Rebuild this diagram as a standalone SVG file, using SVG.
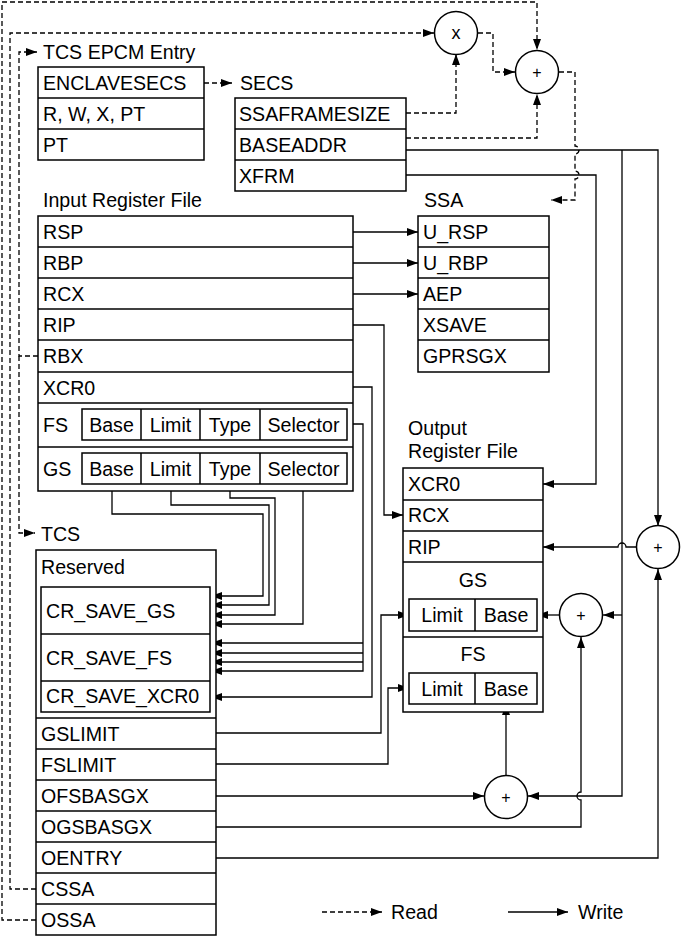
<svg xmlns="http://www.w3.org/2000/svg" width="682" height="938" viewBox="0 0 682 938">
<style>
text{font-family:"Liberation Sans",Arial,Helvetica,sans-serif;font-size:19.6px;fill:#000}
.c{text-anchor:middle}
.box{fill:#fff;stroke:#000;stroke-width:1.5}
.sep{stroke:#000;stroke-width:1.5}
.w{fill:none;stroke:#000;stroke-width:1.3}
.r{fill:none;stroke:#000;stroke-width:1.3;stroke-dasharray:5,3}
.op{fill:#fff;stroke:#000;stroke-width:1.5}
</style>
<defs>
<marker id="a" markerWidth="11" markerHeight="8" refX="11" refY="4" orient="auto" markerUnits="userSpaceOnUse"><path d="M0,0 L11,4 L0,8 z" fill="#000"/></marker>
</defs>
<rect width="682" height="938" fill="#fff"/>

<g id="connectors">
<path class="r" d="M36,920 H2 V2 H537 V50" marker-end="url(#a)"/>
<path class="r" d="M36,889 H10 V33 H434" marker-end="url(#a)"/>
<path class="r" d="M38,356 H19 V52 H37" marker-end="url(#a)"/>
<path class="r" d="M19,356 V533 H35" marker-end="url(#a)"/>
<path class="r" d="M204,83 H232" marker-end="url(#a)"/>
<path class="r" d="M406,113 H456 V54" marker-end="url(#a)"/>
<path class="r" d="M406,138 H537 V94" marker-end="url(#a)"/>
<path class="r" d="M478,33 H493 V72 H515" marker-end="url(#a)"/>
<path class="r" d="M559,72 H575 V146 a4,4 0 0 1 0,8 V171 a4,4 0 0 1 0,8 V200 H551" marker-end="url(#a)"/>
<path class="w" d="M353,232 H418" marker-end="url(#a)"/>
<path class="w" d="M353,263 H418" marker-end="url(#a)"/>
<path class="w" d="M353,294 H418" marker-end="url(#a)"/>
<path class="w" d="M353,325 H384 V515 H403" marker-end="url(#a)"/>
<path class="w" d="M353,387 H372 V697 H211" marker-end="url(#a)"/>
<path class="w" d="M347,424 H363 V671 H211" marker-end="url(#a)"/>
<path class="w" d="M363,643 H211" marker-end="url(#a)"/>
<path class="w" d="M363,653 H211" marker-end="url(#a)"/>
<path class="w" d="M363,662 H211" marker-end="url(#a)"/>
<path class="w" d="M112,484 V514 H263 V596 H211" marker-end="url(#a)"/>
<path class="w" d="M171,484 V505 H269 V605 H211" marker-end="url(#a)"/>
<path class="w" d="M230,484 V498 H275 V615 H211" marker-end="url(#a)"/>
<path class="w" d="M303,484 V624 H211" marker-end="url(#a)"/>
<path class="w" d="M216,733 H381 V615 H409" marker-end="url(#a)"/>
<path class="w" d="M216,764 H388 V688 H409" marker-end="url(#a)"/>
<path class="w" d="M406,150 H658 V526" marker-end="url(#a)"/>
<path class="w" d="M622,150 V796 H528" marker-end="url(#a)"/>
<path class="w" d="M622,615 H603" marker-end="url(#a)"/>
<path class="w" d="M406,175 H596 V484 H543" marker-end="url(#a)"/>
<path class="w" d="M637,547 H626 a4,4 0 0 0 -8,0 H543" marker-end="url(#a)"/>
<path class="w" d="M559,615 H537" marker-end="url(#a)"/>
<path class="w" d="M216,796 H484" marker-end="url(#a)"/>
<path class="w" d="M506,775 V704" marker-end="url(#a)"/>
<path class="w" d="M216,827 H581 V800 a4,4 0 0 1 0,-8 V637" marker-end="url(#a)"/>
<path class="w" d="M216,858 H658 V569" marker-end="url(#a)"/>
</g>

<g id="tcs-epcm">
<text x="43" y="59">TCS EPCM Entry</text>
<rect class="box" x="38" y="67" width="166" height="93"/>
<line class="sep" x1="38" y1="98" x2="204" y2="98"/>
<line class="sep" x1="38" y1="129" x2="204" y2="129"/>
<text x="43" y="90">ENCLAVESECS</text>
<text x="43" y="121">R, W, X, PT</text>
<text x="43" y="152">PT</text>
</g>

<g id="secs">
<text x="240" y="90">SECS</text>
<rect class="box" x="235" y="98" width="171" height="93"/>
<line class="sep" x1="235" y1="129" x2="406" y2="129"/>
<line class="sep" x1="235" y1="160" x2="406" y2="160"/>
<text x="239" y="121">SSAFRAMESIZE</text>
<text x="239" y="152">BASEADDR</text>
<text x="239" y="183">XFRM</text>
</g>

<g id="op-mul">
<circle class="op" cx="456" cy="33" r="21.5"/>
<text class="c" x="456" y="39" style="font-size:18px">x</text>
</g>
<g id="op-add-ssa">
<circle class="op" cx="537" cy="72" r="21.5"/>
<text class="c" x="537" y="78" style="font-size:16px">+</text>
</g>

<g id="input-register-file">
<text x="43" y="207">Input Register File</text>
<rect class="box" x="38" y="216" width="315" height="275"/>
<line class="sep" x1="38" y1="247" x2="353" y2="247"/>
<line class="sep" x1="38" y1="278" x2="353" y2="278"/>
<line class="sep" x1="38" y1="309" x2="353" y2="309"/>
<line class="sep" x1="38" y1="340" x2="353" y2="340"/>
<line class="sep" x1="38" y1="372" x2="353" y2="372"/>
<line class="sep" x1="38" y1="403" x2="353" y2="403"/>
<line class="sep" x1="38" y1="447" x2="353" y2="447"/>
<text x="43" y="239">RSP</text>
<text x="43" y="270">RBP</text>
<text x="43" y="301">RCX</text>
<text x="43" y="332">RIP</text>
<text x="43" y="363">RBX</text>
<text x="43" y="395">XCR0</text>
<text x="43" y="432">FS</text>
<text x="43" y="476">GS</text>
<rect class="box" x="82" y="409" width="265" height="31"/>
<line class="sep" x1="141" y1="409" x2="141" y2="440"/>
<line class="sep" x1="200" y1="409" x2="200" y2="440"/>
<line class="sep" x1="260" y1="409" x2="260" y2="440"/>
<text class="c" x="111.5" y="432">Base</text>
<text class="c" x="170.5" y="432">Limit</text>
<text class="c" x="230" y="432">Type</text>
<text class="c" x="303.5" y="432">Selector</text>
<rect class="box" x="82" y="453" width="265" height="31"/>
<line class="sep" x1="141" y1="453" x2="141" y2="484"/>
<line class="sep" x1="200" y1="453" x2="200" y2="484"/>
<line class="sep" x1="260" y1="453" x2="260" y2="484"/>
<text class="c" x="111.5" y="476">Base</text>
<text class="c" x="170.5" y="476">Limit</text>
<text class="c" x="230" y="476">Type</text>
<text class="c" x="303.5" y="476">Selector</text>
</g>

<g id="ssa">
<text x="424" y="207">SSA</text>
<rect class="box" x="418" y="216" width="131" height="156"/>
<line class="sep" x1="418" y1="247" x2="549" y2="247"/>
<line class="sep" x1="418" y1="278" x2="549" y2="278"/>
<line class="sep" x1="418" y1="309" x2="549" y2="309"/>
<line class="sep" x1="418" y1="340" x2="549" y2="340"/>
<text x="423" y="239">U_RSP</text>
<text x="423" y="270">U_RBP</text>
<text x="423" y="301">AEP</text>
<text x="423" y="332">XSAVE</text>
<text x="423" y="363">GPRSGX</text>
</g>

<g id="output-register-file">
<text x="408" y="435">Output</text>
<text x="408" y="458">Register File</text>
<rect class="box" x="403" y="468" width="140" height="244"/>
<line class="sep" x1="403" y1="500" x2="543" y2="500"/>
<line class="sep" x1="403" y1="531" x2="543" y2="531"/>
<line class="sep" x1="403" y1="562" x2="543" y2="562"/>
<line class="sep" x1="403" y1="637" x2="543" y2="637"/>
<text x="408" y="491">XCR0</text>
<text x="408" y="522">RCX</text>
<text x="408" y="554">RIP</text>
<text class="c" x="473" y="587">GS</text>
<rect class="box" x="409" y="599" width="128" height="32"/>
<line class="sep" x1="475" y1="599" x2="475" y2="631"/>
<text class="c" x="442" y="622">Limit</text>
<text class="c" x="506" y="622">Base</text>
<text class="c" x="473" y="661">FS</text>
<rect class="box" x="409" y="673" width="128" height="31"/>
<line class="sep" x1="475" y1="673" x2="475" y2="704"/>
<text class="c" x="442" y="696">Limit</text>
<text class="c" x="506" y="696">Base</text>
</g>

<g id="op-add-rip">
<circle class="op" cx="658" cy="547" r="21.5"/>
<text class="c" x="658" y="553" style="font-size:16px">+</text>
</g>
<g id="op-add-gs">
<circle class="op" cx="581" cy="615" r="21.5"/>
<text class="c" x="581" y="621" style="font-size:16px">+</text>
</g>
<g id="op-add-fs">
<circle class="op" cx="506" cy="797" r="21.5"/>
<text class="c" x="506" y="803" style="font-size:16px">+</text>
</g>

<g id="tcs">
<text x="41" y="541">TCS</text>
<rect class="box" x="36" y="550" width="180" height="385"/>
<text x="41" y="574">Reserved</text>
<rect class="box" x="41" y="587" width="169" height="125"/>
<line class="sep" x1="41" y1="634" x2="210" y2="634"/>
<line class="sep" x1="41" y1="681" x2="210" y2="681"/>
<text x="46" y="618">CR_SAVE_GS</text>
<text x="46" y="665">CR_SAVE_FS</text>
<text x="46" y="703">CR_SAVE_XCR0</text>
<line class="sep" x1="36" y1="718" x2="216" y2="718"/>
<line class="sep" x1="36" y1="749" x2="216" y2="749"/>
<line class="sep" x1="36" y1="780" x2="216" y2="780"/>
<line class="sep" x1="36" y1="811" x2="216" y2="811"/>
<line class="sep" x1="36" y1="842" x2="216" y2="842"/>
<line class="sep" x1="36" y1="873" x2="216" y2="873"/>
<line class="sep" x1="36" y1="904" x2="216" y2="904"/>
<text x="41" y="741">GSLIMIT</text>
<text x="41" y="772">FSLIMIT</text>
<text x="41" y="803">OFSBASGX</text>
<text x="41" y="834">OGSBASGX</text>
<text x="41" y="865">OENTRY</text>
<text x="41" y="896">CSSA</text>
<text x="41" y="927">OSSA</text>
</g>

<g id="legend">
<path class="r" d="M322,912 H382" marker-end="url(#a)"/>
<text x="391" y="919">Read</text>
<path class="w" d="M508,912 H568" marker-end="url(#a)"/>
<text x="578" y="919">Write</text>
</g>
</svg>
